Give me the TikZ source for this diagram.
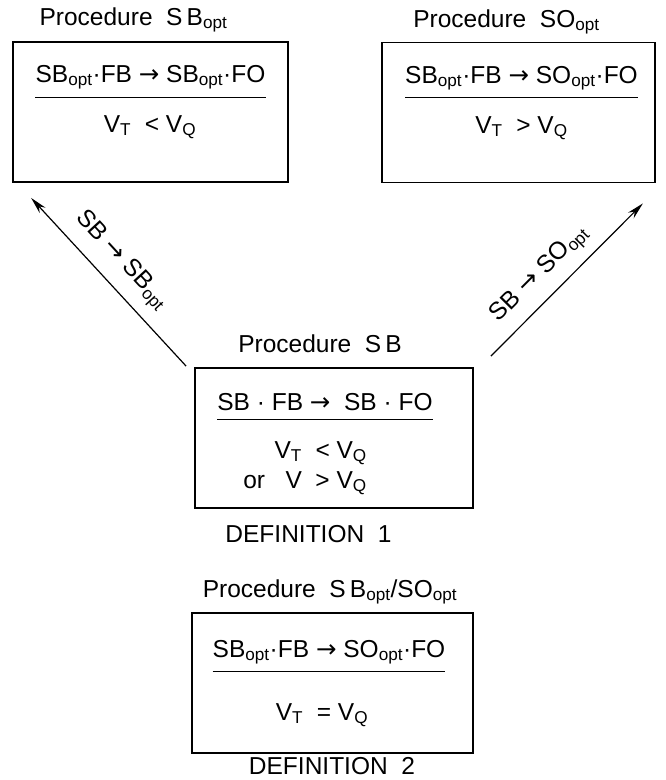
\documentclass[tikz,border=0pt]{standalone}
\usepackage{fontspec}
\setmainfont{Liberation Sans}
\newfontfamily\arrowfont{DejaVu Sans}
\usetikzlibrary{arrows.meta}

\newcommand{\opt}{\textsubscript{opt}}
\newcommand{\goesto}{{\arrowfont →}}

\tikzset{
  procbox/.style={draw, line width=1.8pt, minimum width=#1, minimum height=140pt, inner sep=0pt},
  txt/.style={font=\fontsize{24.5}{29}\selectfont, inner sep=0pt, anchor=base},
  rule/.style={line width=1pt},
  flow/.style={line width=1.2pt, -{Stealth[length=17pt, width=8pt]}}
}

\begin{document}
\begin{tikzpicture}[x=1pt, y=-1pt]
    \useasboundingbox (0,0) rectangle (666,780);

    % Boxes of the four procedures
    \node[procbox=275pt] (sbopt) at (150.5,112) {};
    \node[procbox=273pt] (soopt) at (518.5,112.5) {};
    \node[procbox=278pt] (sb) at (334,438) {};
    \node[procbox=281pt] (both) at (332.5,683) {};

    % Procedure SB_opt
    \node[txt] (sbopt-title) at (133.5,25) {Procedure\ \ S\,B\opt};
    \node[txt] (sbopt-rel) at (150.5,82) {SB\opt·FB \goesto{} SB\opt·FO};
    \node[txt] (sbopt-cond) at (150,132) {V\textsubscript{T} \ <\ V\textsubscript{Q}};
    \draw[rule] ([yshift=-15pt]sbopt-rel.base west) -- ([yshift=-15pt]sbopt-rel.base east);

    % Procedure SO_opt
    \node[txt] (soopt-title) at (506.5,27) {Procedure\ \ SO\opt};
    \node[txt] (soopt-rel) at (521.5,83) {SB\opt·FB \goesto{} SO\opt·FO};
    \node[txt] (soopt-cond) at (521.5,133) {V\textsubscript{T} \ >\ V\textsubscript{Q}};
    \draw[rule] ([yshift=-14pt]soopt-rel.base west) -- ([yshift=-14pt]soopt-rel.base east);

    % Procedure SB
    \node[txt] (sb-title) at (320,352) {Procedure\ \ S\,B};
    \node[txt] (sb-rel) at (325,410) {SB · FB \goesto{} \ SB · FO};
    \node[txt, anchor=base east] (sb-cond1) at (367,458) {V\textsubscript{T} \ <\ V\textsubscript{Q}};
    \node[txt, anchor=base east] (sb-cond2) at (367,488) {or \ \ V \ >\ V\textsubscript{Q}};
    \draw[rule] ([yshift=-9pt]sb-rel.base west) -- ([yshift=-9pt]sb-rel.base east);
    \node[txt] (def1) at (308.5,542) {DEFINITION\ \ 1};

    % Procedure SB_opt/SO_opt
    \node[txt] (both-title) at (330,597) {Procedure\ \ S\,B\opt/SO\opt};
    \node[txt] (both-rel) at (329,657) {SB\opt·FB \goesto{} SO\opt·FO};
    \node[txt] (both-cond) at (322,720) {V\textsubscript{T} \ =\ V\textsubscript{Q}};
    \draw[rule] ([yshift=-14pt]both-rel.base west) -- ([yshift=-14pt]both-rel.base east);
    \node[txt] (def2) at (332,774) {DEFINITION\ \ 2};

    % Transitions out of procedure SB
    \draw[flow] ([shift={(-8,-1)}]sb.north west) -- ([shift={(19,15)}]sbopt.south west)
        node[txt, anchor=center, sloped, above=11pt, pos=0.53] (to-sbopt) {SB \goesto{} SB\opt};
    \draw[flow] ([shift={(17,-11)}]sb.north east) -- ([shift={(-13,20)}]soopt.south east)
        node[txt, anchor=center, sloped, above=10pt, pos=0.43] (to-soopt) {SB \goesto{} SO\opt};
\end{tikzpicture}
\end{document}
